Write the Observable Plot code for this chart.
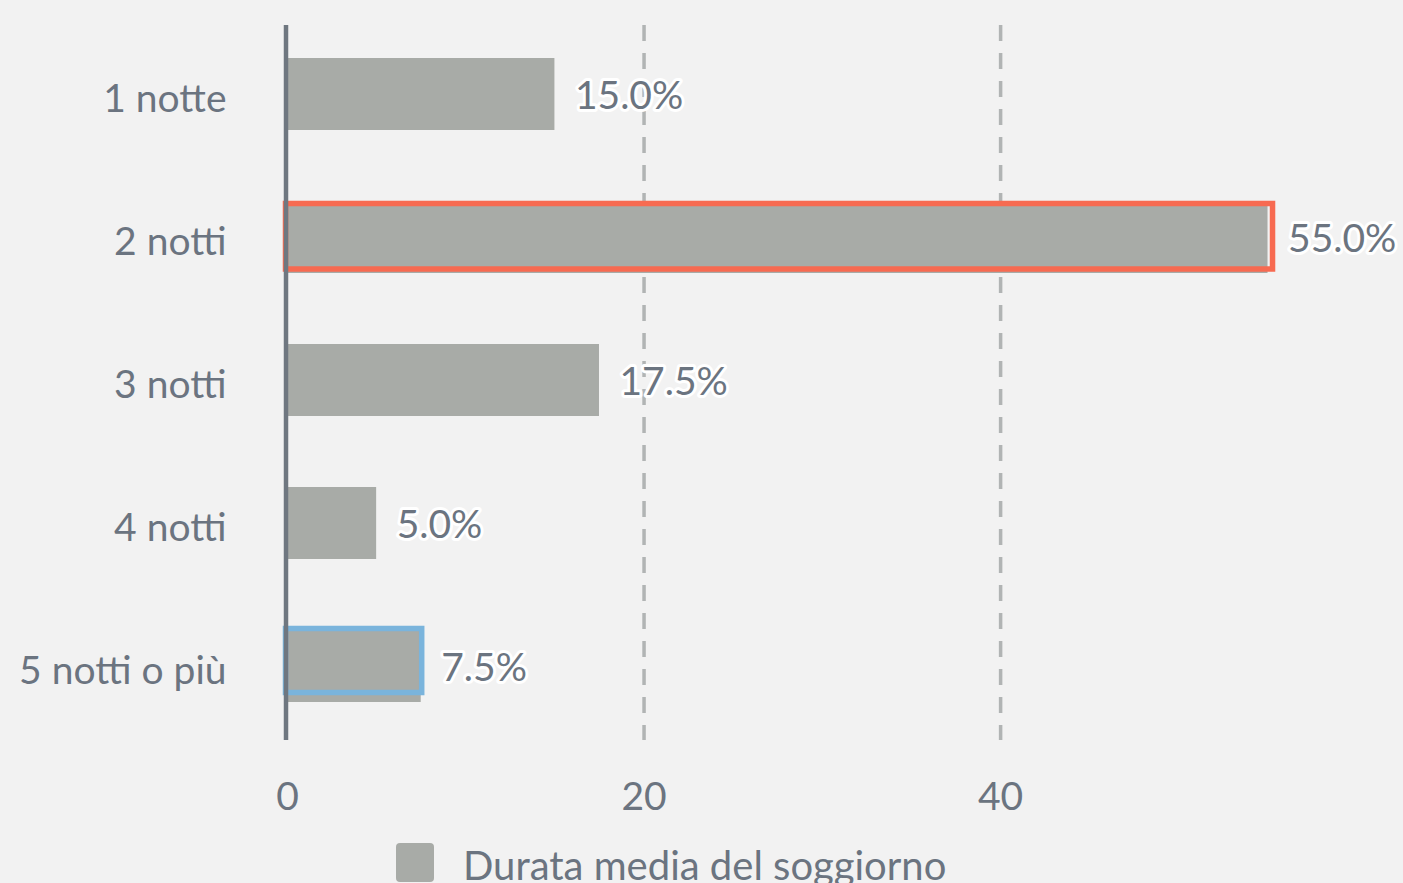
<!DOCTYPE html>
<html>
<head>
<meta charset="utf-8">
<script src="https://cdn.jsdelivr.net/npm/d3@7"></script>
<script src="https://cdn.jsdelivr.net/npm/@observablehq/plot@0.6"></script>
<style>
  html, body { margin: 0; padding: 0; background: #f2f2f2; }
  #wrap { position: relative; width: 1403px; height: 883px; overflow: hidden; font-family: Lato, "Open Sans", sans-serif; }
  #legend { position: absolute; left: 396px; top: 843px; display: flex; align-items: center; }
  #legend .sw { width: 38px; height: 39px; background: #a8aba7; border-radius: 4px; }
  #legend .lb { margin-left: 29px; font-size: 40px; color: #6b7480; line-height: 39px; position: relative; top: 3px; white-space: nowrap; }
</style>
</head>
<body>
<div id="wrap">
  <div id="chart"></div>
  <div id="legend"><div class="sw"></div><div class="lb">Durata media del soggiorno</div></div>
</div>
<script>
const categories = ["1 notte", "2 notti", "3 notti", "4 notti", "5 notti o più"];
const values = [15.0, 55.0, 17.5, 5.0, 7.5];
const xTicks = [0, 20, 40];
const seriesName = "Durata media del soggiorno";
const highlightRed = ["2 notti"];
const highlightBlue = ["5 notti o più"];

const data = categories.map((c, i) => ({cat: c, value: values[i]}));
const redData = data.filter(d => highlightRed.includes(d.cat));
const blueData = data.filter(d => highlightBlue.includes(d.cat));

const textColor = "#6b7480";
const axisColor = "#6f7780";

const chart = Plot.plot({
  width: 1403,
  height: 830,
  marginLeft: 287,
  marginRight: 82,
  marginTop: 22,
  marginBottom: 93,
  style: {background: "transparent", fontFamily: "Lato, 'Open Sans', sans-serif", fontSize: "39px", color: textColor},
  x: {domain: [0, 58], axis: null},
  y: {domain: categories, paddingInner: 0.5, paddingOuter: 0.25, axis: null},
  marks: [
    Plot.ruleX(xTicks.filter(t => t > 0), {stroke: "#b1b4b4", strokeWidth: 3.5, strokeDasharray: "16,12", dy: 3}),
    Plot.barX(data, {x1: 0, x2: "value", y: "cat", fill: "#a8aba7"}),
    Plot.barX(redData, {x1: 0, x2: "value", y: "cat", fill: "none", stroke: "#f76a51", strokeWidth: 5.5, insetTop: 2.5, insetBottom: 4, insetLeft: -1.5, insetRight: -5}),
    Plot.barX(blueData, {x1: 0, x2: "value", y: "cat", fill: "none", stroke: "#7ab4dc", strokeWidth: 5.5, insetTop: -1.5, insetBottom: 9.5, insetLeft: -1.5, insetRight: -1}),
    Plot.ruleY([0], {x1: 0, x2: 58, stroke: axisColor, strokeWidth: 4, dy: 3}),
    Plot.ruleX([0], {stroke: axisColor, strokeWidth: 4.5, dx: -1.5, dy: 3}),
    Plot.axisX({ticks: xTicks, tickSize: 0, tickPadding: 45, tickFormat: d => String(d), label: null, fontSize: 39, fill: textColor}),
    Plot.axisY({tickSize: 0, tickPadding: 61, label: null, fontSize: 39, fill: textColor, dy: 5}),
    Plot.text(data, {x: "value", y: "cat", text: d => d.value.toFixed(1) + "%", textAnchor: "start", dx: 20, dy: 2,
      fill: textColor, stroke: "white", strokeWidth: 6, paintOrder: "stroke", fontSize: 39})
  ]
});
document.getElementById("chart").appendChild(chart);
document.querySelector("#legend .lb").textContent = seriesName;
</script>
</body>
</html>
